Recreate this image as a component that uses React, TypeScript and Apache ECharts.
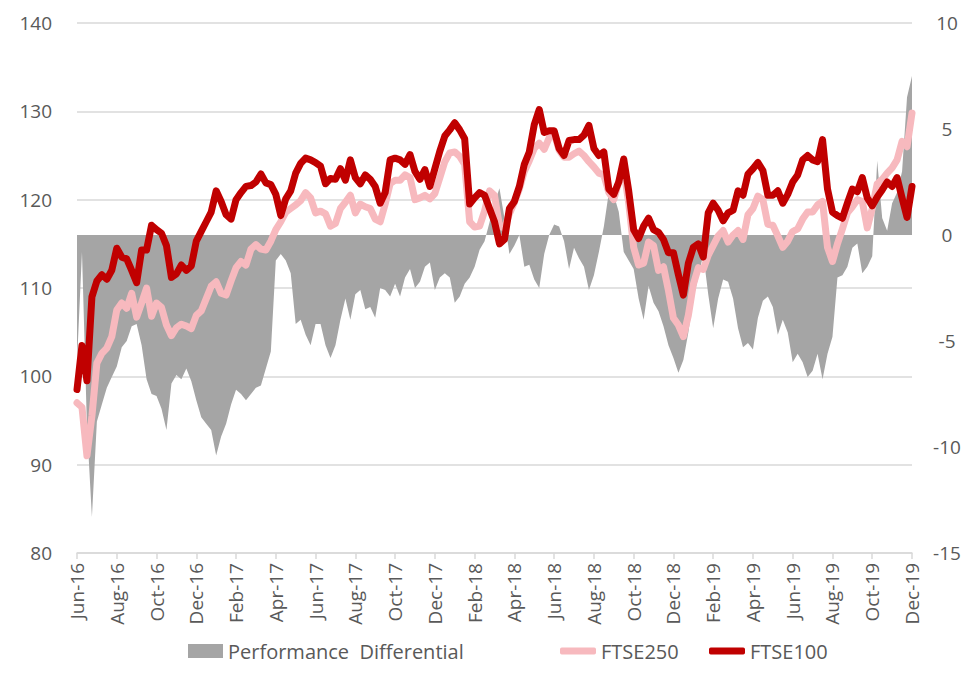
import React, { useEffect, useRef } from "react";
import * as echarts from "echarts";

// Tick labels of the date axis (one every 2 months, starting at the left edge)
const tickLabels = [
  "Jun-16", "Aug-16", "Oct-16", "Dec-16", "Feb-17", "Apr-17", "Jun-17", "Aug-17",
  "Oct-17", "Dec-17", "Feb-18", "Apr-18", "Jun-18", "Aug-18", "Oct-18", "Dec-18",
  "Feb-19", "Apr-19", "Jun-19", "Aug-19", "Oct-19", "Dec-19",
];

// Observations are roughly weekly: one every quarter of a month from Jun-16
const monthStep = 0.25;

// FTSE100 (rebased, left axis)
const ftse100 = [
  98.5, 103.5, 99.5, 109.0, 110.8, 111.5, 111.0, 112.0, 114.5, 113.5,
  113.3, 112.0, 110.6, 114.3, 114.3, 117.1, 116.6, 116.2, 114.8, 111.2,
  111.6, 112.6, 112.0, 112.5, 115.3, 116.4, 117.5, 118.6, 121.0, 119.8,
  118.3, 117.8, 120.0, 120.8, 121.5, 121.6, 122.0, 122.9, 121.9, 121.7,
  120.6, 118.2, 120.1, 121.0, 123.0, 124.1, 124.7, 124.5, 124.2, 123.8,
  121.8, 122.4, 122.3, 123.5, 122.2, 124.5, 122.5, 121.8, 122.8, 122.3,
  121.5, 119.6, 120.8, 124.5, 124.7, 124.5, 124.0, 125.1, 123.2, 122.3,
  123.4, 121.5, 123.5, 125.5, 127.2, 127.9, 128.7, 127.9, 126.9, 119.5,
  120.2, 120.8, 120.5, 119.0, 117.5, 115.0, 115.5, 119.0, 119.8, 121.5,
  124.0, 125.4, 128.5, 130.2, 127.6, 127.8, 127.8, 125.8, 125.0, 126.7,
  126.8, 126.8, 127.3, 128.4, 125.8, 125.0, 125.4, 121.2, 120.6, 122.0,
  124.6, 121.0, 116.6, 115.6, 117.0, 117.9, 116.6, 116.3, 115.5, 114.0,
  114.0, 111.5, 109.2, 112.8, 114.6, 115.0, 113.5, 118.5, 119.6, 118.8,
  117.6, 118.5, 118.8, 121.0, 120.5, 122.9, 123.5, 124.2, 123.3, 120.5,
  120.5, 121.0, 119.6, 120.6, 122.0, 122.8, 124.5, 125.0, 124.5, 124.3,
  126.8, 121.2, 118.6, 118.2, 117.9, 119.6, 121.2, 120.9, 122.5, 120.2,
  119.3, 120.3, 121.1, 122.0, 121.5, 122.5, 120.2, 118.0, 121.5,
];

// FTSE250 (rebased, left axis)
const ftse250 = [
  97.0, 96.5, 91.0, 95.5, 101.5, 102.6, 103.2, 104.5, 107.5, 108.3,
  107.7, 109.4, 106.7, 108.3, 110.0, 106.8, 108.3, 107.8, 105.8, 104.6,
  105.5, 105.9, 105.7, 105.4, 106.9, 107.4, 108.8, 110.2, 110.7, 109.4,
  109.2, 110.8, 112.3, 113.0, 112.6, 114.4, 114.9, 114.4, 114.3, 115.3,
  116.6, 117.5, 118.6, 119.0, 119.4, 119.9, 120.8, 120.2, 118.5, 118.7,
  118.4, 117.0, 117.3, 119.0, 119.7, 120.5, 118.5, 119.5, 119.2, 119.0,
  117.8, 117.5, 119.5, 121.8, 122.2, 122.2, 122.8, 122.5, 120.0, 120.2,
  120.5, 120.1, 120.7, 122.5, 124.3, 125.3, 125.4, 124.9, 124.0, 117.5,
  116.9, 117.0, 118.7, 121.0, 120.5, 117.0, 116.8, 118.4, 119.7, 121.2,
  123.2, 124.4, 125.8, 126.4, 125.7, 127.0, 127.5, 125.6, 124.8, 124.8,
  125.2, 125.5, 125.0, 124.3, 123.7, 123.0, 122.8, 120.8, 120.0, 122.0,
  123.5, 119.6, 114.6, 112.6, 112.8, 115.2, 114.8, 112.0, 112.4, 109.7,
  106.6, 105.8, 104.5, 106.9, 110.4, 112.3, 112.1, 113.7, 114.8, 115.9,
  116.5, 115.2, 116.0, 116.5, 115.5, 118.3, 119.0, 120.4, 120.0, 117.2,
  117.1, 115.9, 114.6, 115.3, 116.4, 116.7, 117.8, 118.6, 118.6, 119.4,
  119.8, 114.6, 113.0, 115.0, 116.7, 118.5, 119.2, 120.0, 119.8, 116.8,
  119.0, 121.8, 122.3, 123.0, 123.6, 124.5, 126.6, 126.0, 129.8,
];

// Performance differential (right axis)
const differential = [
  -6.0, -0.8, -9.0, -13.3, -8.8, -8.0, -7.2, -6.7, -6.2, -5.3,
  -5.0, -4.3, -4.2, -5.2, -6.8, -7.5, -7.6, -8.2, -9.2, -7.0,
  -6.6, -6.8, -6.3, -6.9, -7.8, -8.6, -8.9, -9.2, -10.4, -9.5,
  -8.9, -8.0, -7.3, -7.5, -7.8, -7.5, -7.2, -7.1, -6.3, -5.5,
  -1.2, -0.9, -1.2, -1.8, -4.2, -4.0, -4.7, -5.2, -4.2, -4.2,
  -5.2, -5.8, -5.2, -4.0, -3.0, -4.0, -2.8, -2.6, -3.5, -3.4,
  -3.9, -2.5, -2.6, -2.9, -2.3, -2.9, -2.0, -1.6, -2.5, -2.2,
  -1.5, -1.3, -2.6, -2.0, -1.8, -2.0, -3.2, -2.9, -2.3, -2.0,
  -1.5, -0.7, -0.3, 0.6, 1.5, 2.2, 0.8, -0.9, -0.5, 0.0,
  -1.5, -1.4, -2.1, -2.5, -0.9, 0.0, 0.5, 0.4, -0.3, -1.6,
  -0.6, -1.1, -1.5, -2.6, -1.9, -0.8, 0.4, 2.0, 1.9, 1.1,
  -0.8, -1.2, -1.6, -3.0, -4.0, -2.4, -3.2, -3.6, -4.3, -5.2,
  -5.8, -6.5, -5.9, -4.6, -3.0, -2.0, -0.9, -2.8, -4.4, -3.0,
  -2.1, -2.2, -3.0, -4.4, -5.3, -5.1, -5.4, -3.9, -3.1, -2.9,
  -3.4, -4.7, -4.0, -4.6, -6.0, -5.6, -6.0, -6.7, -6.4, -5.6,
  -6.8, -5.6, -4.8, -2.0, -1.9, -1.5, -0.6, -0.4, -1.8, -1.5,
  -1.0, 3.5, 0.8, 0.2, 1.5, 2.0, 3.0, 6.5, 7.5,
];

const FONT = "'Open Sans', 'Liberation Sans', sans-serif";
const TEXT = "#595959";
const GRID = "#D9D9D9";

const toPairs = (arr: number[]) => arr.map((v, i) => [i * monthStep, v]);

export default function App() {
  const ref = useRef<HTMLDivElement>(null);

  useEffect(() => {
    document.body.style.margin = "0";
    if (!ref.current) return;
    const chart = echarts.init(ref.current, undefined, { renderer: "svg" });
    const legendText = { color: TEXT, fontSize: 20, fontFamily: FONT };
    chart.setOption({
      animation: false,
      backgroundColor: "#ffffff",
      grid: { left: 77, right: 54, top: 23, bottom: 133, containLabel: false },
      legend: [
        {
          left: 183,
          top: 636,
          itemWidth: 35,
          itemHeight: 14,
          data: [{ name: "Performance  Differential", icon: "rect" }],
          textStyle: legendText,
        },
        {
          left: 555,
          top: 636,
          itemWidth: 36,
          itemHeight: 7,
          data: [{ name: "FTSE250", icon: "roundRect" }],
          textStyle: legendText,
        },
        {
          left: 704,
          top: 636,
          itemWidth: 36,
          itemHeight: 7,
          data: [{ name: "FTSE100", icon: "roundRect" }],
          textStyle: legendText,
        },
      ],
      xAxis: {
        type: "value",
        min: 0,
        max: (tickLabels.length - 1) * 2,
        interval: 2,
        axisLine: { show: true, onZero: false, lineStyle: { color: GRID, width: 1.5 } },
        axisTick: { show: true, length: 6, lineStyle: { color: GRID, width: 1.5 } },
        splitLine: { show: false },
        axisLabel: {
          rotate: 90,
          margin: 10,
          color: TEXT,
          fontSize: 19,
          fontFamily: FONT,
          formatter: (v: number) => tickLabels[Math.round(v / 2)] ?? "",
        },
      },
      yAxis: [
        {
          type: "value",
          min: 80,
          max: 140,
          interval: 10,
          axisLine: { show: false },
          axisTick: { show: false },
          splitLine: { show: true, lineStyle: { color: GRID, width: 1.5 } },
          axisLabel: { color: TEXT, fontSize: 19, fontFamily: FONT, margin: 25 },
        },
        {
          type: "value",
          min: -15,
          max: 10,
          interval: 5,
          position: "right",
          axisLine: { show: false },
          axisTick: { show: false },
          splitLine: { show: false },
          axisLabel: { color: TEXT, fontSize: 19, fontFamily: FONT, margin: 35, align: "center" },
        },
      ],
      series: [
        {
          name: "Performance  Differential",
          type: "line",
          yAxisIndex: 1,
          data: toPairs(differential),
          showSymbol: false,
          symbol: "none",
          lineStyle: { width: 0, opacity: 0 },
          itemStyle: { color: "#A5A5A5" },
          areaStyle: { color: "#A5A5A5", opacity: 1, origin: 0 },
          z: 1,
        },
        {
          name: "FTSE250",
          type: "line",
          yAxisIndex: 0,
          data: toPairs(ftse250),
          showSymbol: false,
          symbol: "none",
          itemStyle: { color: "#F7B9BE" },
          lineStyle: { color: "#F7B9BE", width: 7, cap: "round", join: "round" },
          z: 2,
        },
        {
          name: "FTSE100",
          type: "line",
          yAxisIndex: 0,
          data: toPairs(ftse100),
          showSymbol: false,
          symbol: "none",
          itemStyle: { color: "#C00000" },
          lineStyle: { color: "#C00000", width: 7, cap: "round", join: "round" },
          z: 3,
        },
      ],
    });
    return () => chart.dispose();
  }, []);

  return <div ref={ref} style={{ width: 966, height: 686 }} />;
}
